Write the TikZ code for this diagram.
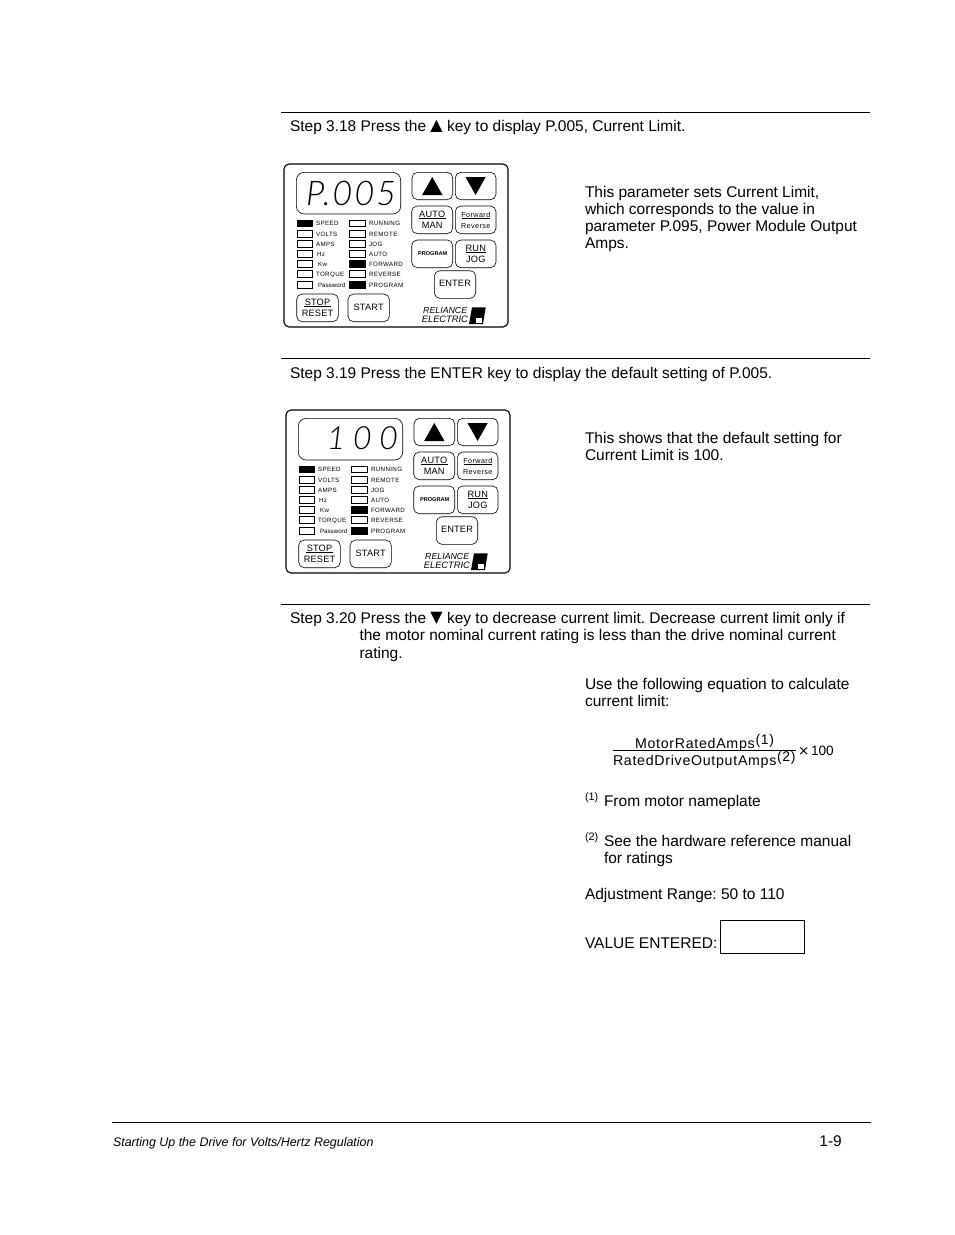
\documentclass[tikz,border=0pt]{standalone}
\usepackage{fontspec}
\setmainfont{Liberation Sans}
\newfontfamily\symfont{DejaVu Sans}
\newfontfamily\panelfont[LetterSpace=6]{Liberation Sans}
\newfontfamily\btnfont[LetterSpace=2]{Liberation Sans}
\newfontfamily\eqfont[LetterSpace=5]{Liberation Sans}
\newfontfamily\segA[LetterSpace=6]{Lato Light Italic}
\newfontfamily\segB[LetterSpace=24]{Lato Light Italic}
\newcommand{\body}{\frenchspacing\fontsize{15.5}{17}\selectfont}
\newcommand{\up}{\raisebox{0.6pt}{\symfont\fontsize{16}{16}\selectfont ▲}}
\newcommand{\down}{\raisebox{0.6pt}{\symfont\fontsize{16}{16}\selectfont ▼}}
\tikzset{
  txt/.style={anchor=base west,inner sep=0pt,outer sep=0pt,font=\body},
  rule/.style={line width=0.9pt,black},
  btn/.style={draw=black,line width=0.6pt,rounded corners=5.5pt},
  led/.style={draw=black,line width=0.5pt},
  ledon/.style={draw=black,fill=black,line width=0.5pt},
  lbl/.style={anchor=base west,inner sep=0pt,outer sep=0pt,font=\panelfont\fontsize{6.2}{7}\selectfont},
  btxt/.style={inner sep=0pt,outer sep=0pt,anchor=base,font=\btnfont\fontsize{9.2}{10}\selectfont},
  seg/.style={inner sep=0pt,outer sep=0pt,anchor=base east,font=\fontsize{34}{34}\selectfont}
}
% #1 prefix, #2 display text, #3 baseline
\newcommand{\panel}[3]{%
  \draw[line width=1.1pt,rounded corners=5pt] (0,0) rectangle (224,163);
  \draw[btn,rounded corners=8pt] (12.3,8.3) rectangle (116.7,50);
  \node[seg] (#1disp) at (112,#3) {#2};
  \draw[btn] (128,8.3) rectangle (168.7,35.7);
  \draw[btn] (171.3,8.3) rectangle (212,35.7);
  \fill (148.3,13) -- (158.5,31) -- (138.1,31) -- cycle;
  \fill (181.5,13) -- (201.7,13) -- (191.6,31) -- cycle;
  \draw[btn] (127.7,42) rectangle (168.7,69.7);
  \draw[btn] (171.3,42) rectangle (212,69.7);
  \draw[btn] (127.7,76) rectangle (168.7,103.7);
  \draw[btn] (171.3,76) rectangle (212,103.7);
  \draw[btn] (150.3,106.7) rectangle (191.7,134.3);
  \draw[btn] (12.7,130) rectangle (54.3,157.7);
  \draw[btn] (64,130) rectangle (105.3,157.7);
  \node[btxt] (#1auto) at (148.2,53) {AUTO};
  \draw[line width=0.5pt] (134.5,54.6) -- (161.5,54.6);
  \node[btxt] (#1man) at (148.2,64.5) {MAN};
  \node[btxt,font=\panelfont\fontsize{7.2}{8}\selectfont] (#1fwd) at (191.8,53) {Forward};
  \draw[line width=0.5pt] (177.5,54.6) -- (206,54.6);
  \node[btxt,font=\panelfont\fontsize{7.2}{8}\selectfont] (#1rev) at (191.8,64.5) {Reverse};
  \node[btxt,font=\bfseries\fontsize{5.6}{6}\selectfont] (#1prog) at (148.7,91) {PROGRAM};
  \node[btxt] (#1run) at (191.8,87) {RUN};
  \draw[line width=0.5pt] (182,88.6) -- (202,88.6);
  \node[btxt] (#1jog) at (191.8,98.5) {JOG};
  \node[btxt] (#1ent) at (171,122.5) {ENTER};
  \node[btxt] (#1stop) at (33.5,141) {STOP};
  \draw[line width=0.5pt] (20,142.6) -- (47,142.6);
  \node[btxt] (#1reset) at (33.5,152.5) {RESET};
  \node[btxt] (#1start) at (84.7,146) {START};
  \node[anchor=base west,inner sep=0pt,font=\itshape\fontsize{8.8}{9}\selectfont] (#1rel) at (139,149.5) {RELIANCE};
  \node[anchor=base west,inner sep=0pt,font=\itshape\fontsize{9.3}{9}\selectfont] (#1ele) at (137.7,158.8) {ELECTRIC};
  \fill (188,143.3) -- (201.7,143.3) -- (199,160) -- (185,160) -- cycle;
  \draw[black,fill=white,line width=0.4pt] (191,153.5) rectangle (198.5,159.5);
  \foreach \n/\y/\l/\dx in {a/59.3/SPEED/32,b/69.7/VOLTS/32,c/79.7/AMPS/32,d/89.7/Hz/33,e/100/Kw/34,f/110/TORQUE/32}{
    \draw[led] (13,\y-3.3) rectangle (28.7,\y+3.3);
    \node[lbl] (#1l\n) at (\dx,\y+2.3) {\l};
  }
  \draw[led] (13,117.4) rectangle (28.7,124);
  \node[lbl,font=\fontsize{6.2}{7}\selectfont] (#1lg) at (34,123) {Password};
  \fill (13,56) rectangle (28.7,62.6);
  \foreach \n/\y/\l/\o in {a/59.3/RUNNING/0,b/69.7/REMOTE/0,c/79.7/JOG/0,d/89.7/AUTO/0,e/100/FORWARD/1,f/110/REVERSE/0,g/120.7/PROGRAM/1}{
    \ifnum\o=1 \draw[ledon] (65.3,\y-3.3) rectangle (81,\y+3.3);
    \else \draw[led] (65.3,\y-3.3) rectangle (81,\y+3.3); \fi
    \node[lbl] (#1r\n) at (85,\y+2.3) {\l};
  }
}
\begin{document}
\begin{tikzpicture}[x=1pt,y=-1pt]
\useasboundingbox[fill=white] (0,0) rectangle (954,1235);
\coordinate (r1a) at (281,112.5); \coordinate (r1b) at (870,112.5);
\coordinate (r2a) at (281,358.5); \coordinate (r2b) at (870,358.5);
\coordinate (r3a) at (281,604.5); \coordinate (r3b) at (870,604.5);
\coordinate (r4a) at (112,1122); \coordinate (r4b) at (871,1122);
\draw[rule] (r1a) -- (r1b);
\draw[rule] (r2a) -- (r2b);
\draw[rule] (r3a) -- (r3b);
\draw[rule] (r4a) -- (r4b);

\node[txt] (s18) at (290,131) {Step 3.18 Press the \up{} key to display P.005, Current Limit.};
\node[txt] (s19) at (290,378) {Step 3.19 Press the ENTER key to display the default setting of P.005.};
\node[txt] (s20) at (290,623) {Step 3.20 Press the \down{} key to decrease current limit. Decrease current limit only if};
\node[txt] (s20b) at (359.5,640) {the motor nominal current rating is less than the drive nominal current};
\node[txt] (s20c) at (359.5,658) {rating.};

\begin{scope}[shift={(284,164)}]
\panel{pa}{\segA P.005}{41}
\end{scope}
\begin{scope}[shift={(286,410)}]
\panel{pb}{\segB\fontsize{32}{32}\selectfont 100}{39.5}
\end{scope}

\node[txt] (t1) at (585,197) {This parameter sets Current Limit,};
\node[txt] (t2) at (585,214) {which corresponds to the value in};
\node[txt] (t3) at (585,231) {parameter P.095, Power Module Output};
\node[txt] (t4) at (585,248) {Amps.};
\node[txt] (u1) at (585,443) {This shows that the default setting for};
\node[txt] (u2) at (585,460) {Current Limit is 100.};
\node[txt] (v1) at (585,689) {Use the following equation to calculate};
\node[txt] (v2) at (585,706) {current limit:};

\node[txt,font=\eqfont\fontsize{14.2}{15}\selectfont] (num) at (635,748) {MotorRatedAmps};
\node[txt,font=\eqfont\fontsize{14}{14}\selectfont] (numa) at (755.5,744) {(1)};
\coordinate (fa) at (613,750.7); \coordinate (fb) at (796,750.7);
\draw[line width=0.8pt] (fa) -- (fb);
\node[txt,font=\eqfont\fontsize{14.2}{15}\selectfont] (den) at (613,765) {RatedDriveOutputAmps};
\node[txt,font=\eqfont\fontsize{14}{14}\selectfont] (dena) at (777,761) {(2)};
\node[txt,font=\symfont\fontsize{13.5}{14}\selectfont] (tim) at (798,755) {×};
\node[txt,font=\fontsize{13.6}{14}\selectfont] (hun) at (811,755) {100};

\node[txt,font=\fontsize{10.8}{11}\selectfont] (f1) at (585,800) {(1)};
\node[txt] (f1t) at (604,806) {From motor nameplate};
\node[txt,font=\fontsize{10.8}{11}\selectfont] (f2) at (585,840) {(2)};
\node[txt] (f2t) at (604,846) {See the hardware reference manual};
\node[txt] (f2u) at (604,863) {for ratings};
\node[txt] (adj) at (585,899) {Adjustment Range: 50 to 110};
\node[txt] (val) at (585,948) {VALUE ENTERED:};
\node[draw=black,line width=0.8pt,minimum width=84.4pt,minimum height=33pt,inner sep=0pt,outer sep=0pt,anchor=north west] (box) at (720.3,920.3) {};

\node[txt,font=\itshape\fontsize{12.46}{14}\selectfont] (foot) at (113,1146) {Starting Up the Drive for Volts/Hertz Regulation};
\node[anchor=base east,inner sep=0pt,font=\fontsize{15.5}{17}\selectfont] (pg) at (842,1146) {1-9};
\end{tikzpicture}
\end{document}
